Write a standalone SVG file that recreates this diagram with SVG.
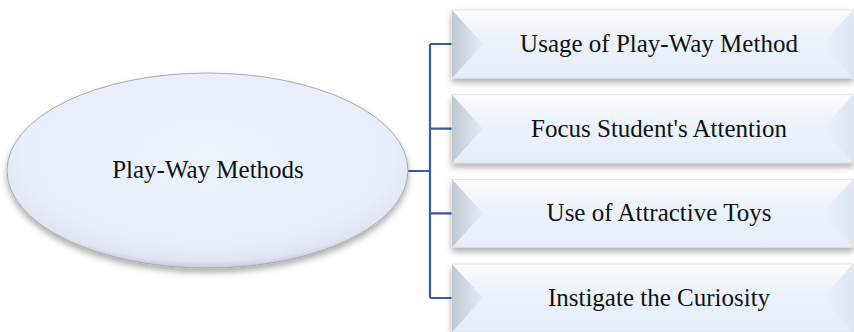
<svg xmlns="http://www.w3.org/2000/svg" width="854" height="332" viewBox="0 0 854 332">
<defs>
<linearGradient id="boxg" x1="0" y1="0" x2="0" y2="1">
<stop offset="0" stop-color="#fcfdff"/>
<stop offset="0.45" stop-color="#ebf2fa"/>
<stop offset="1" stop-color="#e5edf8"/>
</linearGradient>
<linearGradient id="bevL" x1="0" y1="0" x2="1" y2="0">
<stop offset="0" stop-color="#bfc7d1"/>
<stop offset="1" stop-color="#e5ecf4"/>
</linearGradient>
<linearGradient id="bevR" x1="1" y1="0" x2="0" y2="0">
<stop offset="0" stop-color="#dde6f0"/>
<stop offset="1" stop-color="#ecf2fa"/>
</linearGradient>
<radialGradient id="ellg" cx="0.5" cy="0.42" r="0.58">
<stop offset="0" stop-color="#edf3fb"/>
<stop offset="0.8" stop-color="#e7eef8"/>
<stop offset="0.94" stop-color="#dfe6ef"/>
<stop offset="1" stop-color="#c8ced7"/>
</radialGradient>
<filter id="sh" x="-10%" y="-20%" width="120%" height="150%">
<feDropShadow dx="0" dy="4" stdDeviation="3" flood-color="#000" flood-opacity="0.32"/>
</filter>
</defs>
<style>
.t{font-family:"Liberation Serif","DejaVu Serif",serif;font-size:25px;fill:#111;text-anchor:middle}
.c{fill:none;stroke:#3a5ba3;stroke-width:2.2}
.box{fill:url(#boxg);stroke:#d8dee6;stroke-width:0.8}
</style>
<g id="connectors">
<path class="c" d="M408 171 H430 M430 44 V298 M430 44 H452 M430 128.7 H452 M430 213.3 H452 M430 298 H452"/>
</g>
<g id="center">
<ellipse cx="207.5" cy="170.5" rx="200.5" ry="97.5" fill="url(#ellg)" stroke="#a4abb5" stroke-width="1" filter="url(#sh)"/>
<text class="t" x="208" y="178">Play-Way Methods</text>
</g>
<g id="n1">
<rect class="box" x="452" y="10" width="401" height="68" filter="url(#sh)"/>
<polygon points="452,10 483,44 452,78" fill="url(#bevL)"/>
<polygon points="853,10 822,44 853,78" fill="url(#bevR)"/>
<text class="t" x="659" y="52">Usage of Play-Way Method</text>
</g>
<g id="n2">
<rect class="box" x="452" y="94.7" width="401" height="68" filter="url(#sh)"/>
<polygon points="452,94.7 483,128.7 452,162.7" fill="url(#bevL)"/>
<polygon points="853,94.7 822,128.7 853,162.7" fill="url(#bevR)"/>
<text class="t" x="659" y="137">Focus Student's Attention</text>
</g>
<g id="n3">
<rect class="box" x="452" y="179.3" width="401" height="68" filter="url(#sh)"/>
<polygon points="452,179.3 483,213.3 452,247.3" fill="url(#bevL)"/>
<polygon points="853,179.3 822,213.3 853,247.3" fill="url(#bevR)"/>
<text class="t" x="659" y="221">Use of Attractive Toys</text>
</g>
<g id="n4">
<rect class="box" x="452" y="264" width="401" height="68" filter="url(#sh)"/>
<polygon points="452,264 483,298 452,332" fill="url(#bevL)"/>
<polygon points="853,264 822,298 853,332" fill="url(#bevR)"/>
<text class="t" x="659" y="306">Instigate the Curiosity</text>
</g>
</svg>
